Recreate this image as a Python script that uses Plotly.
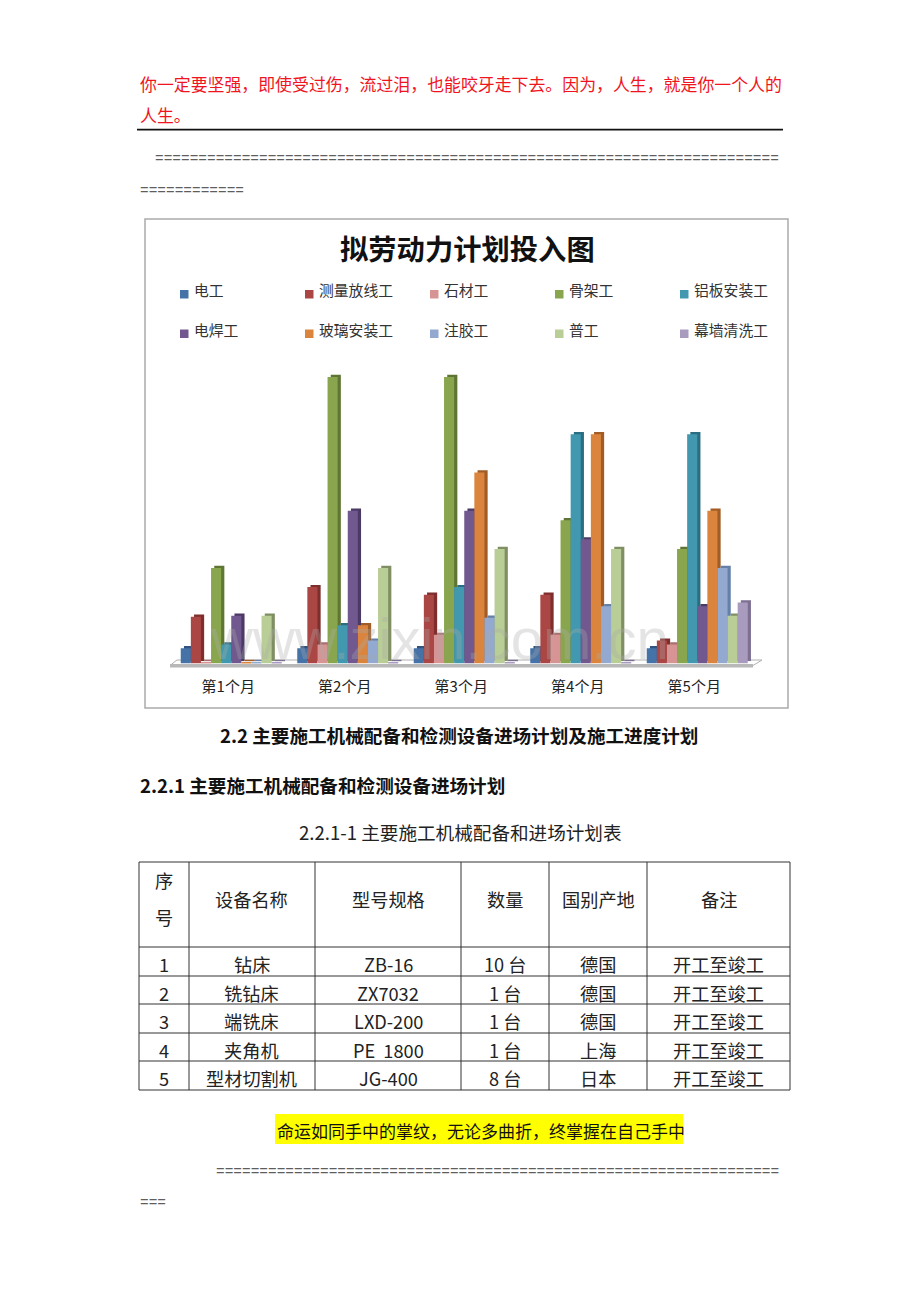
import plotly.graph_objects as go

W, H = 920, 1302
CJK = "Noto Sans CJK SC"

months = ["第1个月", "第2个月", "第3个月", "第4个月", "第5个月"]
series_names = ["电工", "测量放线工", "石材工", "骨架工", "铝板安装工",
                "电焊工", "玻璃安装工", "注胶工", "普工", "幕墙清洗工"]
dian_gong = [0.8, 0.8, 0.8, 0.8, 0.8]
celiang = [2.45, 4, 3.6, 3.6, 1.2]
shicai = [0.08, 1, 1.5, 1.5, 1]
gujia = [5, 15, 15, 7.5, 6]
lvban = [1, 2, 4, 12, 12]
dianhan = [2.5, 8, 8, 6.5, 3]
boli = [0.08, 2, 10, 12, 8]
zhujiao = [0.08, 1.2, 2.4, 3, 5]
pugong = [2.5, 5, 6, 6, 2.5]
qingxi = [0.08, 0.08, 0.08, 0.08, 3.2]
series_values = [dian_gong, celiang, shicai, gujia, lvban, dianhan, boli, zhujiao, pugong, qingxi]
front_colors = ["#4572A7", "#AA4643", "#D69594", "#89A54E", "#4198AF",
                "#71588F", "#DB843D", "#93A9CF", "#B9CD96", "#A99BBD"]
side_colors = ["#2F5480", "#7E2F2D", "#A96E6D", "#5F7533", "#2B6E82",
               "#4C3A66", "#A15D25", "#6480A8", "#808F63", "#7D6F91"]

table_header = ["设备名称", "型号规格", "数量", "国别产地", "备注"]
table_no = ["1", "2", "3", "4", "5"]
table_name = ["钻床", "铣钻床", "端铣床", "夹角机", "型材切割机"]
table_model = ["ZB-16", "ZX7032", "LXD-200", "PE  1800", "JG-400"]
table_qty = ["10 台", "1 台", "1 台", "1 台", "8 台"]
table_origin = ["德国", "德国", "德国", "上海", "日本"]
table_note = ["开工至竣工"] * 5


def px(x):
    return x / W


def py(y):
    return 1 - y / H


def label(x, y, text, size=16, color="#111", anchor="left", family=CJK, weight=None):
    if family == CJK:
        y -= 1.5
    fig.add_annotation(xref="paper", yref="paper", x=px(x), y=py(y), text=text,
                       showarrow=False, xanchor=anchor, yanchor="middle", borderpad=0,
                       font=dict(family=family, size=size, color=color, weight=weight))


def rect(x0, y0, x1, y1, line=None, fill=None, width=1, layer="below"):
    fig.add_shape(type="rect", xref="paper", yref="paper", x0=px(x0), x1=px(x1), y0=py(y0), y1=py(y1),
                  line=dict(color=line, width=width if line else 0), fillcolor=fill, layer=layer)


def line(x0, y0, x1, y1, color="#222", width=1, layer="below"):
    fig.add_shape(type="line", xref="paper", yref="paper", x0=px(x0), x1=px(x1), y0=py(y0), y1=py(y1),
                  line=dict(color=color, width=width), layer=layer)


fig = go.Figure()

# side faces first (shifted axis pair), front faces on top
for name, vals, col in zip(series_names, series_values, side_colors):
    fig.add_bar(x=months, y=vals, name=name, marker=dict(color=col, line_width=0),
                xaxis="x", yaxis="y", showlegend=False, hoverinfo="skip")
for name, vals, col in zip(series_names, series_values, front_colors):
    fig.add_bar(x=months, y=vals, name=name, marker=dict(color=col, line_width=0),
                xaxis="x2", yaxis="y2", showlegend=False)

LEFT, RIGHT, BASE, TOP = 173.0, 755.5, 663.5, 357.9
DX, DY = 3.2, 2.2
fig.update_layout(
    width=W, height=H, margin=dict(l=0, r=0, t=0, b=0, pad=0),
    paper_bgcolor="white", plot_bgcolor="rgba(0,0,0,0)",
    barmode="group", bargap=0.133, bargroupgap=0, showlegend=False,
    xaxis=dict(domain=[px(LEFT + DX), px(RIGHT + DX)], anchor="y", showticklabels=False,
               showgrid=False, zeroline=False, showline=False, ticks=""),
    yaxis=dict(domain=[py(BASE - DY), py(TOP - DY)], anchor="x", range=[0, 16], visible=False),
    xaxis2=dict(domain=[px(LEFT), px(RIGHT)], anchor="y2", showgrid=False, zeroline=False,
                showline=False, ticks="", ticklabelstandoff=12, ticklabelshift=-3,
                tickfont=dict(family=CJK, size=15, color="#222")),
    yaxis2=dict(domain=[py(BASE), py(TOP)], anchor="x2", range=[0, 16], visible=False),
)

# chart frame and 3D floor
rect(145, 219, 788, 708, line="#ABABAB", width=1.5)
fig.add_shape(type="path", xref="paper", yref="paper", layer="below",
              path=f"M {px(170)} {py(665.5)} L {px(177)} {py(660)} L {px(762)} {py(660)} L {px(753)} {py(665.5)} Z",
              fillcolor="white", line=dict(color="#B0B0B0", width=1))
line(170, 665.7, 753, 665.7, color="#B8B8B8", width=3.5)

# chart title and legend
label(467, 249, "拟劳动力计划投入图", size=28.3, color="#111", anchor="center", weight=700)
for i, (name, col) in enumerate(zip(series_names, front_colors)):
    x0 = 180 + 125 * (i % 5)
    y0 = 290 + 39.5 * (i // 5)
    rect(x0, y0, x0 + 8.5, y0 + 8.5, fill=col)
    label(x0 + 12.5, y0 + 1, name, size=14.8, color="#333")

# surrounding document text
label(139, 85, "你一定要坚强，即使受过伤，流过泪，也能咬牙走下去。因为，人生，就是你一个人的", size=16.9, color="#F0141E")
label(139, 116, "人生。", size=16.9, color="#F0141E")
line(137, 129.7, 783, 129.7, color="#111", width=1.8)
MONO = "Liberation Mono"
label(154, 159, "=" * 72, size=14.45, color="#5E5E5E", family=MONO)
label(139, 190.5, "=" * 12, size=14.45, color="#5E5E5E", family=MONO)
label(459, 735.5, "2.2 主要施工机械配备和检测设备进场计划及施工进度计划", size=18.6, anchor="center", weight=700)
label(139, 785.5, "2.2.1 主要施工机械配备和检测设备进场计划", size=18.6, weight=700)
label(460, 832.5, "2.2.1-1 主要施工机械配备和进场计划表", size=18.6, color="#222", anchor="center")

# table
col_x = [139, 189, 315, 461, 549, 647, 790]
row_y = [862, 947, 976, 1004, 1033, 1061, 1090]
for x in col_x:
    line(x, row_y[0], x, row_y[-1], color="#333")
for y in row_y:
    line(col_x[0], y, col_x[-1], y, color="#333")
centers = [(a + b) / 2 for a, b in zip(col_x, col_x[1:])]
label(centers[0], 881, "序", size=18.2, color="#222", anchor="center")
label(centers[0], 918, "号", size=18.2, color="#222", anchor="center")
for c, text in zip(centers[1:], table_header):
    label(c, 900, text, size=18.2, color="#222", anchor="center")
columns = [table_no, table_name, table_model, table_qty, table_origin, table_note]
for c, column in zip(centers, columns):
    for r, text in enumerate(column):
        label(c, (row_y[r + 1] + row_y[r + 2]) / 2 + 4, text, size=18.2, color="#222", anchor="center")

# highlighted quote and closing rule text
rect(275, 1114, 683, 1144, fill="#FFFF00")
label(276, 1132, "命运如同手中的掌纹，无论多曲折，终掌握在自己手中", size=17, color="#111")
label(215, 1172, "=" * 65, size=14.45, color="#5E5E5E", family=MONO)
label(139, 1203, "=" * 3, size=14.45, color="#5E5E5E", family=MONO)

# watermark
label(439, 638, "www.zixin.com.cn", size=58, color="rgba(170,170,170,0.32)", anchor="center", family="Liberation Sans")

fig.write_html("out.html", config=dict(displayModeBar=False),
               post_script="document.body.style.margin='0';")
